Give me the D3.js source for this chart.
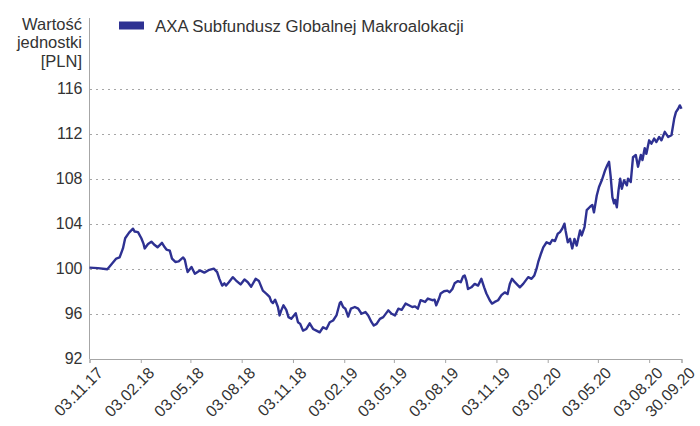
<!DOCTYPE html>
<html><head><meta charset="utf-8">
<script src="https://cdn.jsdelivr.net/npm/d3@7"></script>
<style>
body{margin:0;background:#fff}
svg{display:block}
text{font-family:"Liberation Sans",Arial,sans-serif;fill:#333}
</style>
</head><body>
<svg id="chart" width="700" height="426"></svg>
<script>
const seriesName = "AXA Subfundusz Globalnej Makroalokacji";
const yTitle = ["Wartość", "jednostki", "[PLN]"];
const yTicks = [92, 96, 100, 104, 108, 112, 116];
const xTickDates = ["2017-11-03","2018-02-03","2018-05-03","2018-08-03","2018-11-03","2019-02-03","2019-05-03","2019-08-03","2019-11-03","2020-02-03","2020-05-03","2020-08-03","2020-09-30"];
const xTickLabels = ["03.11.17","03.02.18","03.05.18","03.08.18","03.11.18","03.02.19","03.05.19","03.08.19","03.11.19","03.02.20","03.05.20","03.08.20","30.09.20"];

const dates = [
"2017-11-03","2017-11-18","2017-12-05","2017-12-11","2017-12-21","2017-12-27","2018-01-02","2018-01-06","2018-01-13","2018-01-20",
"2018-01-23","2018-01-29","2018-02-04","2018-02-08","2018-02-10","2018-02-16","2018-02-22","2018-02-28","2018-03-05","2018-03-13",
"2018-03-18","2018-03-21","2018-03-27","2018-03-31","2018-04-06","2018-04-12","2018-04-20","2018-04-23","2018-04-26","2018-04-28",
"2018-05-05","2018-05-11","2018-05-20","2018-05-28","2018-06-06","2018-06-14","2018-06-20","2018-06-24","2018-06-29","2018-07-03",
"2018-07-06","2018-07-11","2018-07-18","2018-07-24","2018-08-01","2018-08-08","2018-08-14","2018-08-20","2018-08-28","2018-09-03",
"2018-09-10","2018-09-17","2018-09-22","2018-09-25","2018-09-28","2018-10-02","2018-10-07","2018-10-10","2018-10-13","2018-10-17",
"2018-10-22","2018-10-26","2018-10-31","2018-11-08","2018-11-12","2018-11-16","2018-11-21","2018-11-27","2018-12-03","2018-12-09",
"2018-12-15","2018-12-21","2018-12-27","2019-01-02","2019-01-08","2019-01-14","2019-01-20","2019-01-26","2019-01-28","2019-02-01",
"2019-02-05","2019-02-10","2019-02-15","2019-02-22","2019-02-28","2019-03-06","2019-03-13","2019-03-18","2019-03-24","2019-03-28",
"2019-04-02","2019-04-08","2019-04-14","2019-04-23","2019-04-29","2019-05-05","2019-05-11","2019-05-17","2019-05-24","2019-05-30",
"2019-06-05","2019-06-10","2019-06-15","2019-06-20","2019-06-28","2019-07-03","2019-07-11","2019-07-15","2019-07-18","2019-07-23",
"2019-07-26","2019-08-01","2019-08-07","2019-08-11","2019-08-16","2019-08-20","2019-08-26","2019-08-31","2019-09-04","2019-09-07",
"2019-09-10","2019-09-13","2019-09-19","2019-09-25","2019-10-01","2019-10-07","2019-10-12","2019-10-16","2019-10-22","2019-10-26",
"2019-10-31","2019-11-06","2019-11-12","2019-11-18","2019-11-23","2019-11-27","2019-12-01","2019-12-06","2019-12-09","2019-12-15",
"2019-12-21","2019-12-30","2020-01-05","2020-01-10","2020-01-14","2020-01-17","2020-01-22","2020-01-26","2020-02-01","2020-02-07",
"2020-02-11","2020-02-16","2020-02-21","2020-02-25","2020-02-29","2020-03-04","2020-03-06","2020-03-10","2020-03-14","2020-03-18",
"2020-03-22","2020-03-26","2020-04-01","2020-04-04","2020-04-09","2020-04-13","2020-04-19","2020-04-23","2020-04-26","2020-05-01",
"2020-05-05","2020-05-10","2020-05-14","2020-05-16","2020-05-20","2020-05-23","2020-05-26","2020-05-29","2020-06-01","2020-06-03",
"2020-06-06","2020-06-09","2020-06-12","2020-06-15","2020-06-19","2020-06-24","2020-06-26","2020-07-01","2020-07-05","2020-07-10",
"2020-07-14","2020-07-19","2020-07-22","2020-07-26","2020-07-29","2020-08-03","2020-08-07","2020-08-12","2020-08-16","2020-08-21",
"2020-08-25","2020-08-31","2020-09-06","2020-09-12","2020-09-17","2020-09-20","2020-09-24","2020-09-27","2020-09-30"
];
const values = [
100.1,100.05,99.95,100.3,100.9,101.0,101.8,102.7,103.2,103.55,
103.3,103.25,102.7,102.2,101.8,102.2,102.4,102.1,101.9,102.3,
101.9,101.7,101.6,100.9,100.6,100.65,101.0,100.8,100.1,99.7,
100.15,99.55,99.85,99.65,99.9,100.0,99.7,99.1,98.5,98.7,
98.5,98.8,99.25,98.95,98.6,99.05,98.8,98.4,99.1,98.9,
98.05,97.75,97.5,97.1,96.95,97.25,96.6,95.85,96.3,96.75,
96.35,95.7,95.55,96.05,95.25,95.1,94.5,94.65,95.15,94.65,
94.5,94.35,94.8,94.65,95.25,95.4,95.85,96.95,97.05,96.6,
96.45,95.75,96.45,96.6,96.45,96.0,96.15,95.85,95.25,94.95,
95.1,95.55,95.7,96.3,96.0,95.85,96.45,96.35,96.9,96.75,
96.6,96.65,96.45,97.2,97.05,97.35,97.2,97.25,96.75,97.35,
97.8,98.0,98.05,97.9,98.2,98.7,98.9,98.8,99.3,99.4,
98.95,98.2,98.35,98.65,98.5,99.1,98.35,97.8,97.2,96.9,
97.05,97.2,97.65,97.9,97.75,98.65,99.1,98.8,98.65,98.35,
98.65,99.25,99.1,99.4,100.0,100.6,101.35,101.9,102.35,102.2,
102.55,102.45,103.1,103.25,103.55,104.0,103.4,102.35,102.65,101.8,
102.65,102.05,103.4,102.95,103.7,105.2,105.5,105.65,105.0,106.5,
107.25,107.85,108.45,108.75,109.2,109.5,108.15,106.35,105.8,106.1,
105.45,106.95,108.0,107.1,107.85,107.4,108.0,107.7,109.9,110.1,
109.05,110.1,109.65,110.7,110.2,111.4,111.1,111.55,111.25,111.7,
111.4,112.15,111.7,111.85,113.35,113.9,114.2,114.5,114.2
];

const FONT = '"Liberation Sans",Arial,sans-serif';
const parse = d3.timeParse("%Y-%m-%d");
const data = dates.map((d, i) => ({ date: parse(d), value: values[i] }));

const svg = d3.select("#chart");
const x = d3.scaleTime()
  .domain([parse("2017-11-03"), parse("2020-09-30")])
  .range([89.5, 681.5]);
const y = d3.scaleLinear().domain([92, 116]).range([358.8, 88.5]);

// gridlines
svg.append("g").selectAll("line")
  .data(yTicks.filter(t => t > 92))
  .join("line")
  .attr("x1", 90).attr("x2", 684)
  .attr("y1", d => Math.round(y(d)) + 0.5).attr("y2", d => Math.round(y(d)) + 0.5)
  .attr("stroke", "#a6a6a6").attr("stroke-width", 1)
  .attr("stroke-dasharray", "2,4");

// y axis
const yAxis = d3.axisLeft(y).tickValues(yTicks).tickSize(0).tickPadding(7).tickFormat(d3.format("d"));
const gy = svg.append("g").attr("transform", "translate(89.5,0)").call(yAxis);
gy.select(".domain").remove();
gy.selectAll("text").attr("font-size", 16).attr("fill", "#333").style("font-family", FONT);
svg.append("line").attr("x1", 89.5).attr("x2", 89.5).attr("y1", 18).attr("y2", 359)
  .attr("stroke", "#a6a6a6").attr("stroke-width", 1);

// x axis
const xAxis = d3.axisBottom(x)
  .tickValues(xTickDates.map(parse))
  .tickSize(4)
  .tickFormat((d, i) => xTickLabels[i]);
const gx = svg.append("g").attr("transform", "translate(0,359)").call(xAxis);
gx.select(".domain").attr("stroke", "#a6a6a6");
gx.selectAll(".tick line").attr("stroke", "#a6a6a6");
gx.selectAll("text")
  .attr("font-size", 16).attr("fill", "#333")
  .style("font-family", FONT)
  .attr("text-anchor", "end")
  .attr("dy", 0).attr("y", 0)
  .attr("transform", "translate(14,15) rotate(-45)");

// y title
const yt = svg.append("text").attr("text-anchor", "end").attr("font-size", 16.5);
yTitle.forEach((t, i) => {
  yt.append("tspan").attr("x", 82).attr("y", 29.5 + i * 18.5).text(t);
});

// legend
svg.append("rect").attr("x", 119).attr("y", 21.5).attr("width", 25).attr("height", 8).attr("fill", "#2e3192");
svg.append("text").attr("x", 155).attr("y", 31.5).attr("font-size", 16.8).text(seriesName);

// line
const line = d3.line().x(d => x(d.date)).y(d => y(d.value));
svg.append("path").datum(data)
  .attr("fill", "none")
  .attr("stroke", "#2e3192")
  .attr("stroke-width", 2.4)
  .attr("stroke-linejoin", "round")
  .attr("d", line);
</script>
</body></html>
